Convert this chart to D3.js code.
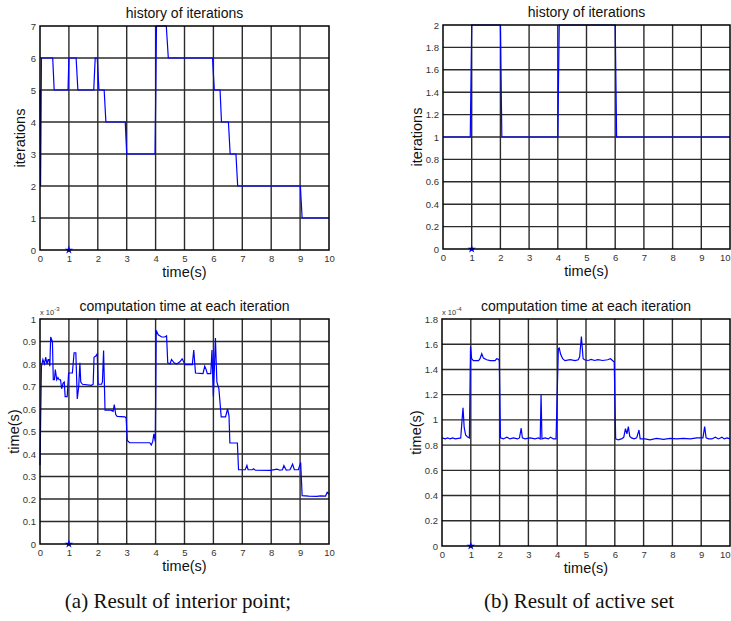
<!DOCTYPE html>
<html><head><meta charset="utf-8">
<script src="https://cdn.jsdelivr.net/npm/d3@7"></script>
<style>
body{margin:0;background:#fff}
svg{display:block}
.sans{font-family:Arial,"Liberation Sans",sans-serif}
.cap{font-family:"Liberation Serif","Times New Roman",serif}
</style>
</head><body>
<svg id="c" width="731" height="621"></svg>
<script>
// ---------- DATA ----------
const timeTicks = [0,1,2,3,4,5,6,7,8,9,10];
const iterTicksA = [0,1,2,3,4,5,6,7];
const iterTicksB = [0,0.2,0.4,0.6,0.8,1,1.2,1.4,1.6,1.8,2];
const compTicksA = [0,0.1,0.2,0.3,0.4,0.5,0.6,0.7,0.8,0.9,1];
const compTicksB = [0,0.2,0.4,0.6,0.8,1,1.2,1.4,1.6,1.8];

const titles = ["history of iterations","history of iterations",
  "computation time at each iteration","computation time at each iteration"];
const xLabels = ["time(s)","time(s)","time(s)","time(s)"];
const yLabels = ["iterations","iterations","time(s)","time(s)"];
const exponents = [null,null,"-3","-4"];
const captions = ["(a) Result of interior point;","(b) Result of active set"];
const marker = [1,0];

// interior point: iterations
const iterA = [[0,5],[0.02,2],[0.05,6],[0.44,6],[0.49,5],[0.97,5],[1.0,6],[1.25,6],[1.31,5],
  [1.86,5],[1.91,6],[1.98,6],[2.04,5],[2.22,5],[2.28,4],[2.95,4],[3.0,3],[3.98,3],[4.03,7],
  [4.37,7],[4.44,6],[5.97,6],[6.03,5],[6.23,5],[6.28,4],[6.52,4],[6.58,3],[6.78,3],[6.84,2],
  [9.01,2],[9.07,1],[10,1]];
// active set: iterations
const iterB = [[0,1],[0.95,1],[1.0,2],[2.0,2],[2.05,1],[4.0,1],[4.05,2],[6.0,2],[6.05,1],[10,1]];
// interior point: computation time (x 1e-3 s)
const compA = [[0,0.35],[0.05,0.79],[0.10,0.82],[0.15,0.80],[0.20,0.83],[0.24,0.80],[0.28,0.82],
  [0.31,0.82],[0.34,0.79],[0.37,0.92],[0.43,0.90],[0.46,0.73],[0.50,0.73],[0.53,0.775],[0.58,0.73],
  [0.62,0.74],[0.66,0.73],[0.71,0.73],[0.75,0.69],[0.80,0.715],[0.84,0.72],[0.87,0.655],[0.94,0.655],
  [0.99,0.76],[1.12,0.76],[1.18,0.85],[1.24,0.85],[1.29,0.645],[1.34,0.70],[1.38,0.805],[1.41,0.72],
  [1.47,0.71],[1.78,0.705],[1.84,0.71],[1.87,0.83],[1.93,0.835],[1.98,0.845],[2.01,0.71],[2.13,0.71],
  [2.16,0.72],[2.20,0.86],[2.25,0.595],[2.45,0.595],[2.53,0.59],[2.57,0.62],[2.62,0.575],[2.67,0.567],
  [2.94,0.565],[2.98,0.56],[3.02,0.46],[3.1,0.45],[3.5,0.45],[3.8,0.45],[3.85,0.44],[3.9,0.455],
  [3.94,0.49],[3.99,0.455],[4.02,0.95],[4.09,0.93],[4.21,0.92],[4.32,0.92],[4.38,0.925],[4.42,0.805],
  [4.5,0.80],[4.55,0.82],[4.64,0.805],[4.73,0.80],[4.84,0.81],[4.92,0.823],[5.02,0.797],[5.27,0.797],
  [5.32,0.862],[5.38,0.76],[5.64,0.757],[5.7,0.79],[5.75,0.775],[5.79,0.757],[5.91,0.757],[5.95,0.862],
  [6.0,0.655],[6.07,0.915],[6.12,0.72],[6.19,0.69],[6.27,0.565],[6.42,0.565],[6.49,0.60],[6.54,0.57],
  [6.57,0.449],[6.83,0.449],[6.87,0.33],[7.1,0.33],[7.16,0.349],[7.2,0.33],[7.35,0.33],[7.39,0.334],
  [7.45,0.328],[7.97,0.327],[8.2,0.333],[8.3,0.328],[8.39,0.33],[8.44,0.349],[8.52,0.328],[8.65,0.33],
  [8.74,0.355],[8.8,0.33],[8.94,0.33],[9.02,0.362],[9.07,0.215],[9.3,0.213],[9.58,0.212],[9.7,0.214],
  [9.88,0.213],[9.94,0.23],[10,0.222]];
// active set: computation time (x 1e-4 s)
const compB = [[0,0.857],[0.11,0.85],[0.2,0.857],[0.28,0.849],[0.37,0.857],[0.46,0.849],[0.57,0.854],
  [0.65,0.857],[0.7,1.01],[0.73,1.095],[0.77,0.94],[0.82,0.88],[0.88,0.867],[0.95,0.857],[0.99,1.58],
  [1.03,1.485],[1.09,1.47],[1.27,1.47],[1.32,1.485],[1.38,1.525],[1.44,1.49],[1.55,1.477],[1.67,1.47],
  [1.84,1.47],[1.9,1.485],[1.96,1.48],[1.99,1.47],[2.03,0.857],[2.13,0.849],[2.25,0.862],[2.36,0.849],
  [2.48,0.857],[2.62,0.849],[2.69,0.857],[2.75,0.934],[2.79,0.857],[2.88,0.849],[3.06,0.857],[3.23,0.849],
  [3.35,0.857],[3.41,0.849],[3.44,1.2],[3.47,0.849],[3.58,0.857],[3.69,0.849],[3.77,0.862],[3.87,0.849],
  [3.96,0.849],[4.04,1.565],[4.07,1.57],[4.12,1.52],[4.19,1.485],[4.27,1.47],[4.45,1.477],[4.62,1.47],
  [4.73,1.477],[4.78,1.5],[4.84,1.66],[4.9,1.485],[4.95,1.477],[5.07,1.471],[5.18,1.48],[5.3,1.471],
  [5.41,1.477],[5.58,1.471],[5.75,1.477],[5.85,1.485],[5.92,1.471],[5.98,1.458],[6.03,0.85],[6.12,0.841],
  [6.23,0.849],[6.31,0.862],[6.37,0.93],[6.42,0.889],[6.47,0.947],[6.52,0.868],[6.58,0.857],[6.67,0.849],
  [6.76,0.857],[6.84,0.92],[6.88,0.849],[7.05,0.849],[7.22,0.841],[7.45,0.854],[7.69,0.846],[7.92,0.854],
  [8.15,0.849],[8.38,0.854],[8.62,0.849],[8.85,0.857],[9.06,0.857],[9.12,0.947],[9.17,0.857],[9.26,0.849],
  [9.37,0.849],[9.49,0.862],[9.6,0.849],[9.72,0.862],[9.8,0.849],[9.9,0.857],[10,0.849]];

// ---------- LAYOUT ----------
const panels = [
  {l:40, r:329, t:26, b:250, yTicks:iterTicksA, yMax:7, data:iterA, ylx:25},
  {l:443, r:730, t:25, b:249, yTicks:iterTicksB, yMax:2, data:iterB, ylx:422},
  {l:40, r:329, t:319, b:544, yTicks:compTicksA, yMax:1, data:compA, ylx:19},
  {l:442, r:730, t:319, b:546, yTicks:compTicksB, yMax:1.8, data:compB, ylx:421}
];

const svg = d3.select("#c");
const fmt = d3.format("~g");
const W = 731;

panels.forEach((p, i) => {
  const x = d3.scaleLinear().domain([0,10]).range([p.l, p.r]);
  const y = d3.scaleLinear().domain([0,p.yMax]).range([p.b, p.t]);
  const g = svg.append("g").attr("class", "sans");

  // grid
  g.append("g").selectAll("line").data(timeTicks.slice(1,-1)).join("line")
    .attr("x1", d => x(d)).attr("x2", d => x(d)).attr("y1", p.t).attr("y2", p.b)
    .attr("stroke", "#2b2b2b").attr("stroke-width", 1.4);
  g.append("g").selectAll("line").data(p.yTicks.filter(d => d > 0 && d < p.yMax)).join("line")
    .attr("y1", d => y(d)).attr("y2", d => y(d)).attr("x1", p.l).attr("x2", p.r)
    .attr("stroke", "#2b2b2b").attr("stroke-width", 1.4);

  // axes (tick labels)
  const xa = g.append("g").attr("transform", `translate(0,${p.b})`)
    .call(d3.axisBottom(x).tickValues(timeTicks).tickSize(0).tickPadding(5).tickFormat(fmt));
  const ya = g.append("g").attr("transform", `translate(${p.l},0)`)
    .call(d3.axisLeft(y).tickValues(p.yTicks).tickSize(0).tickPadding(4).tickFormat(fmt));
  [xa, ya].forEach(a => {
    a.select(".domain").remove();
    a.attr("font-family", null).attr("font-size", null);
    a.selectAll("text").attr("font-size", 9.5).attr("fill", "#333");
  });
  // keep the last x label inside the page when the axis reaches the right edge
  xa.selectAll("text").filter(d => x(d) + 6 > W).attr("text-anchor", "end").attr("dx", W - x(10) - 1);

  // data line
  const line = d3.line().x(d => x(d[0])).y(d => y(d[1]));
  g.append("path").datum(p.data).attr("d", line)
    .attr("fill", "none").attr("stroke", "#0000ff").attr("stroke-width", 1.2);

  // marker
  g.append("path").attr("d", d3.symbol(d3.symbolStar, 22)())
    .attr("transform", `translate(${x(marker[0])},${y(marker[1])})`)
    .attr("fill", "#0000ff");

  // box
  g.append("rect").attr("x", p.l).attr("y", p.t).attr("width", p.r - p.l).attr("height", p.b - p.t)
    .attr("fill", "none").attr("stroke", "#000").attr("stroke-width", 1.5);

  // title
  g.append("text").attr("x", (p.l + p.r) / 2).attr("y", p.t - 8)
    .attr("text-anchor", "middle").attr("font-size", 14).attr("fill", "#111").text(titles[i]);
  // x label
  g.append("text").attr("x", (p.l + p.r) / 2).attr("y", p.b + 27)
    .attr("text-anchor", "middle").attr("font-size", 14.5).attr("fill", "#111").text(xLabels[i]);
  // y label
  g.append("text").attr("transform", `translate(${p.ylx},${(p.t + p.b) / 2}) rotate(-90)`)
    .attr("text-anchor", "middle").attr("font-size", 14.5).attr("fill", "#111").text(yLabels[i]);
  // exponent
  if (exponents[i]) {
    const ex = g.append("text").attr("x", p.l).attr("y", p.t - 4)
      .attr("font-size", 7.5).attr("fill", "#333");
    ex.append("tspan").text("x 10");
    ex.append("tspan").attr("dy", -4).attr("font-size", 6).text(exponents[i]);
  }
});

// captions
svg.selectAll("text.cap").data(captions).join("text").attr("class", "cap")
  .attr("x", (d, i) => i === 0 ? 178 : 579).attr("y", 608)
  .attr("text-anchor", "middle").attr("font-size", 21).attr("fill", "#111")
  .text(d => d);
</script>
</body></html>
